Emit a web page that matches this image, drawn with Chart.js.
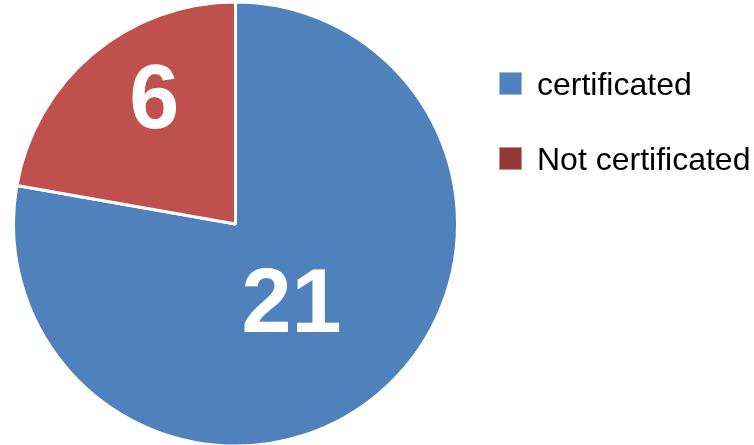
<!DOCTYPE html>
<html>
<head>
<meta charset="utf-8">
<script src="https://cdn.jsdelivr.net/npm/chart.js@4/dist/chart.umd.min.js"></script>
<style>
  html, body { margin: 0; padding: 0; background: #ffffff; }
  #wrap { width: 754px; height: 445px; }
</style>
</head>
<body>
<div id="wrap"><canvas id="pie" width="754" height="445"></canvas></div>
<script>
// Certification status counts
const categories = ['certificated', 'Not certificated'];
const counts = [21, 6];

// Slice fills and legend swatch colours
const sliceColors = ['#4F81BD', '#C0504D'];
const swatchColors = ['#4F81BD', '#953735'];

// Value labels drawn inside each slice, placed along the slice's mid angle
const valueLabels = {
  id: 'valueLabels',
  afterDatasetsDraw(chart) {
    const ctx = chart.ctx;
    const meta = chart.getDatasetMeta(0);
    const radial = [0.43, 0.68];     // fraction of radius
    const turn = [0.07, 0.13];        // angle nudge (radians)
    ctx.save();
    ctx.fillStyle = '#ffffff';
    ctx.font = 'bold 90px "Liberation Sans", Arial, sans-serif';
    ctx.textAlign = 'center';
    ctx.textBaseline = 'middle';
    meta.data.forEach((arc, i) => {
      const p = arc.getProps(['x', 'y', 'startAngle', 'endAngle', 'outerRadius'], true);
      const a = (p.startAngle + p.endAngle) / 2 + turn[i];
      const r = p.outerRadius * radial[i];
      ctx.fillText(String(chart.data.datasets[0].data[i]), p.x + Math.cos(a) * r, p.y + Math.sin(a) * r + 6);
    });
    ctx.restore();
  }
};

// Legend on the right, top-aligned
const sideLegend = {
  id: 'sideLegend',
  afterDraw(chart) {
    const ctx = chart.ctx;
    ctx.save();
    ctx.font = '32px "Liberation Sans", Arial, sans-serif';
    ctx.textBaseline = 'alphabetic';
    ctx.textAlign = 'left';
    chart.data.labels.forEach((label, i) => {
      const top = 72 + i * 75;
      ctx.fillStyle = swatchColors[i];
      ctx.fillRect(499, top, 23, 23);
      ctx.strokeStyle = 'rgba(255,255,255,0.45)';
      ctx.lineWidth = 1;
      ctx.strokeRect(499.5, top + 0.5, 22, 22);
      ctx.fillStyle = '#000000';
      ctx.fillText(label, 537, top + 23);
    });
    ctx.restore();
  }
};

new Chart(document.getElementById('pie'), {
  type: 'pie',
  data: {
    labels: categories,
    datasets: [{
      data: counts,
      backgroundColor: sliceColors,
      borderColor: '#ffffff',
      borderWidth: 3,
      hoverOffset: 0
    }]
  },
  options: {
    responsive: false,
    animation: false,
    radius: 222,
    layout: { padding: { left: 0, right: 283, top: 3, bottom: 0 } },
    plugins: {
      legend: { display: false },
      tooltip: { enabled: false },
      title: { display: false }
    }
  },
  plugins: [valueLabels, sideLegend]
});
</script>
</body>
</html>
